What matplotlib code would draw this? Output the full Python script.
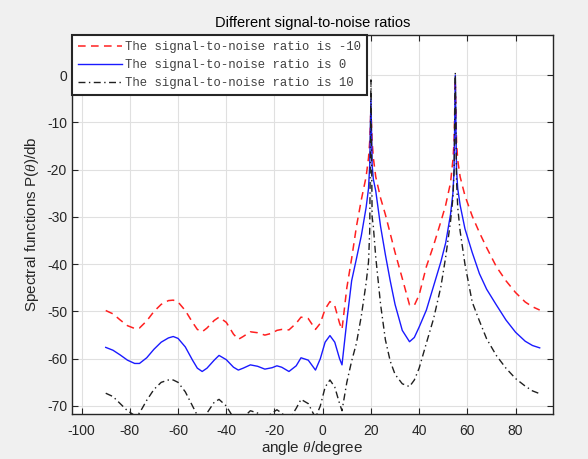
import matplotlib
matplotlib.use('Agg')
import matplotlib.pyplot as plt

# 角度采样点（度）
angles = [-90, -87, -84, -81, -78, -76, -73, -70, -67, -64, -62, -60, -57, -54, -52, -50,
          -48, -45, -43, -40, -37, -35, -33, -30, -27, -24, -21, -19, -17, -14, -11, -9,
          -6, -3, -1, 1, 3, 5, 7, 8, 10, 12, 14, 16, 18, 19, 19.5, 20, 20.5, 21, 22, 24,
          26, 28, 30, 33, 36, 38, 40, 43, 46, 49, 51, 53, 54, 54.5, 55, 55.5, 56, 57, 59,
          62, 65, 68, 72, 76, 80, 84, 87, 90]

# SNR = -10 dB
p_snr_m10 = [-49.8, -50.5, -51.8, -53.0, -53.6, -53.5, -52.0, -50.0, -48.5, -47.7, -47.6, -48.0,
             -49.8, -52.3, -53.8, -54.3, -53.5, -51.9, -51.2, -52.3, -54.8, -55.9, -55.3, -54.3,
             -54.5, -55.0, -54.6, -54.0, -53.8, -53.9, -52.5, -51.2, -51.5, -53.8, -52.5, -49.5,
             -47.9, -48.8, -52.5, -53.8, -45.0, -38.8, -32.0, -26.4, -21.5, -17.5, -14.0, -7.0,
             -14.0, -17.5, -21.5, -26.0, -29.5, -33.5, -37.5, -43.0, -48.6, -48.7, -46.5, -40.5,
             -36.0, -31.0, -27.5, -22.8, -18.0, -14.0, -1.0, -14.0, -18.0, -21.5, -25.5, -29.8,
             -33.3, -36.5, -40.5, -43.5, -46.0, -48.0, -49.0, -49.7]

# SNR = 0 dB
p_snr_0 = [-57.6, -58.2, -59.2, -60.3, -61.0, -61.0, -59.8, -58.0, -56.5, -55.6, -55.3, -55.7,
           -57.5, -60.3, -62.0, -62.7, -62.0, -60.3, -59.3, -60.2, -61.8, -62.4, -62.0, -61.3,
           -61.6, -62.2, -61.9, -61.5, -61.8, -62.7, -61.5, -59.8, -60.3, -62.4, -60.0, -56.5,
           -55.1, -56.5, -60.0, -61.3, -52.0, -43.5, -38.8, -34.0, -28.0, -24.0, -19.0, -5.0,
           -19.0, -22.0, -24.5, -32.0, -38.0, -43.5, -48.5, -54.0, -56.4, -55.5, -53.3, -49.7,
           -44.6, -39.5, -35.5, -29.5, -25.0, -20.0, 0.0, -20.0, -24.0, -27.5, -32.5, -37.5,
           -42.0, -45.3, -48.6, -51.8, -54.4, -56.3, -57.2, -57.7]

# SNR = 10 dB
p_snr_10 = [-67.3, -68.0, -69.5, -71.0, -72.0, -71.5, -68.8, -66.5, -65.0, -64.5, -64.5, -65.0,
            -67.0, -70.0, -72.0, -73.0, -71.5, -69.2, -68.6, -70.0, -72.5, -73.5, -72.5, -71.0,
            -71.5, -72.5, -71.5, -70.8, -71.5, -73.0, -70.5, -68.6, -69.5, -72.5, -70.0, -66.0,
            -64.5, -66.0, -69.5, -71.0, -65.0, -60.5, -56.7, -51.0, -44.0, -39.5, -33.0, -1.0,
            -30.0, -32.0, -38.5, -48.5, -56.0, -60.5, -63.3, -65.3, -65.9, -64.5, -62.0, -56.7,
            -51.5, -44.8, -38.5, -31.0, -26.0, -20.0, 0.5, -22.0, -28.0, -33.0, -40.0, -48.0,
            -52.0, -55.8, -59.3, -62.0, -64.2, -65.8, -66.8, -67.4]

labels = ['The signal-to-noise ratio is -10',
          'The signal-to-noise ratio is 0',
          'The signal-to-noise ratio is 10']

plt.rcParams['font.family'] = ['Liberation Sans', 'DejaVu Sans']
plt.rcParams['axes.unicode_minus'] = False
plt.rcParams['mathtext.fontset'] = 'custom'
plt.rcParams['mathtext.it'] = 'Liberation Serif:italic'

fig = plt.figure(figsize=(5.88, 4.59), dpi=100, facecolor='#f0f0f0')
ax = fig.add_axes([0.1224, 0.098, 0.818, 0.8257])

ax.plot(angles, p_snr_m10, color='#ff2020', lw=1.1, dashes=(5, 3.5), label=labels[0])
ax.plot(angles, p_snr_0, color='#1a1aff', lw=1.0, label=labels[1])
ax.plot(angles, p_snr_10, color='#202020', lw=1.0, dashes=(5, 2.5, 1, 2.5), label=labels[2])

ax.set_xlim(-104, 95.5)
ax.set_ylim(-71.7, 8.5)
ax.set_xticks(range(-100, 81, 20))
ax.set_yticks(range(-70, 1, 10))
ax.grid(True, color='#e0e0e0', lw=0.8)
ax.set_axisbelow(True)
ax.tick_params(direction='in', top=True, right=True, labelsize=10, colors='#262626', length=4)
ax.tick_params(axis='x', pad=7)
for s in ax.spines.values():
    s.set_color('#262626')
    s.set_linewidth(1.0)

ax.set_title('Different signal-to-noise ratios', fontsize=10.5, color='black', pad=6)
ax.set_xlabel(r'angle $\theta$/degree', fontsize=11, color='#262626', labelpad=1)
ax.set_ylabel(r'Spectral functions P($\theta$)/db', fontsize=11, color='#262626', labelpad=4)

leg = ax.legend(loc='upper left', borderaxespad=0, fancybox=False, framealpha=1,
                edgecolor='#262626', handlelength=3.6, handletextpad=0.2,
                labelspacing=0.5, borderpad=0.5,
                prop={'family': 'Liberation Mono', 'size': 8.8})
leg.get_frame().set_linewidth(1.5)
for t in leg.get_texts():
    t.set_color('#404040')

fig.savefig('out.png', dpi=100, facecolor=fig.get_facecolor())
